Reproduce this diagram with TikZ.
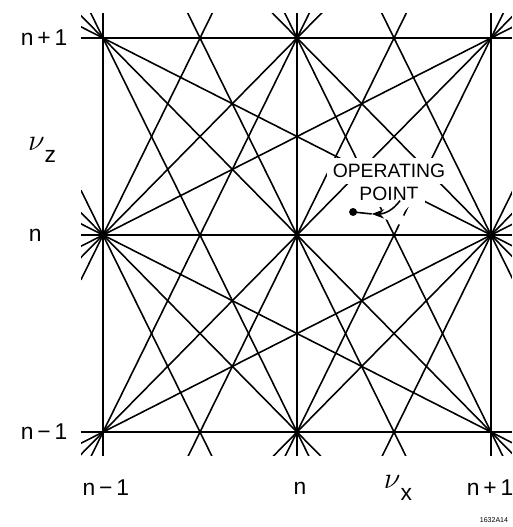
\documentclass[tikz,border=0pt]{standalone}
\usepackage{fontspec}
\setmainfont{Liberation Sans}
\usetikzlibrary{arrows.meta,positioning}

\begin{document}
\begin{tikzpicture}[x=3.88cm, y=3.94cm,
    res/.style={line width=0.9pt, shorten <=-1cm, shorten >=-1cm},
    tick/.style={font=\fontsize{13}{15}\selectfont, inner sep=0pt},
    tune/.style={font=\fontsize{19}{22}\selectfont, inner sep=0pt},
    op/.style={font=\fontsize{11}{13}\selectfont, fill=white, inner sep=3.5pt},
    >=Stealth
]
\useasboundingbox (-0.531,-0.482) rectangle (2.113,2.193);

\begin{scope}
\clip (-0.113,-0.117) rectangle (2.108,2.122);
\foreach \a/\b/\c/\d in {0/0/2/0, 0/1/2/1, 0/2/2/2, 0/0/0/2, 1/0/1/2, 2/0/2/2,
    0/0/2/2, 1/0/2/1, 0/1/1/2, 0/1/1/0, 0/2/2/0, 1/2/2/1,
    0/1/0.5/2, 0/0/1/2, 0.5/0/1.5/2, 1/0/2/2, 1.5/0/2/1,
    0/1/0.5/0, 0/2/1/0, 0.5/2/1.5/0, 1/2/2/0, 1.5/2/2/1,
    0/0/2/1, 0/1/2/2, 0/1/2/0, 0/2/2/1}
  \draw[res] (\a,\b) -- (\c,\d);
\end{scope}

\node[tick] (zhi) at (-0.304,2) {n\,+\,1};
\node[tick] (zmid) at (-0.35,1) {n};
\node[tick] (zlo) at (-0.304,0) {n\,−\,1};
\node[tune] (nuz) at (-0.314,1.431) {$\nu$\raisebox{-0.7ex}{\fontsize{13}{15}\selectfont z}};

\node[tick] (xlo) at (0.015,-0.284) {n\,−\,1};
\node[tick] (xmid) at (1.015,-0.284) {n};
\node[tune] (nux) at (1.52,-0.284) {$\nu$\raisebox{-0.7ex}{\fontsize{13}{15}\selectfont x}};
\node[tick] (xhi) at (1.995,-0.284) {n\,+\,1};

\node[op] (opw) at (1.474,1.325) {OPERATING};
\node[op, below=-2pt of opw] (opp) {POINT};

\coordinate (tail) at (1.531,1.175);
\coordinate (bend) at (1.385,1.107);
\coordinate (dot) at (1.289,1.117);
\fill[white] (dot) circle[radius=0.16cm];
\draw[->, line width=0.9pt, preaction={draw=white, line width=5pt}] (tail) to[out=235,in=0] (bend);
\draw[line width=0.9pt, preaction={draw=white, line width=5pt}] (bend) -- (dot);
\fill (dot) circle[radius=0.08cm];

\node[font=\fontsize{4}{5}\selectfont] (tag) at (2.015,-0.447) {1632A14};
\end{tikzpicture}
\end{document}
